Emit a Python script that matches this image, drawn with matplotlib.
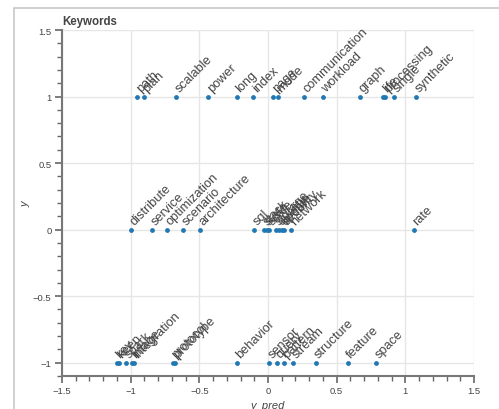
import matplotlib
matplotlib.use("Agg")
import matplotlib.pyplot as plt
from matplotlib.patches import Rectangle
from matplotlib.ticker import MultipleLocator, FuncFormatter

plt.rcParams["font.family"] = ["Liberation Sans", "DejaVu Sans"]

# keywords per row (y = 1, 0, -1) and their predicted positions
words_top = ["path", "plan", "scalable", "power", "long", "index", "page", "mode",
             "communication", "workload", "graph", "life", "processing", "single",
             "synthetic"]
pred_top = [-0.952, -0.905, -0.67, -0.435, -0.226, -0.107, 0.039, 0.07,
            0.265, 0.40, 0.668, 0.84, 0.855, 0.918, 1.075]

words_mid = ["distribute", "service", "optimization", "scenario", "architecture",
             "sql", "stack", "state", "scale", "storage", "quality", "update",
             "security", "network", "rate"]
pred_mid = [-1.0, -0.842, -0.735, -0.62, -0.495,
            -0.10, -0.03, -0.01, 0.01, 0.06, 0.08, 0.10, 0.12, 0.17, 1.06]

words_bot = ["key", "keep", "spark", "image", "integration", "protocol", "prototype",
             "behavior", "sensor", "query", "pattern", "stream", "structure",
             "feature", "space"]
pred_bot = [-1.102, -1.087, -1.036, -0.988, -0.974, -0.694, -0.677,
            -0.228, 0.01, 0.063, 0.114, 0.182, 0.347, 0.58, 0.784]

rows = [(1, words_top, pred_top), (0, words_mid, pred_mid), (-1, words_bot, pred_bot)]

fig = plt.figure(figsize=(4.99, 4.10), dpi=100)
ax = fig.add_axes([62 / 499, 1 - 377 / 410, (474 - 62) / 499, (377 - 31) / 410])

# outer panel border
fig.patches.append(Rectangle((14 / 499, -0.1), 1.2, 1 - 9 / 410 + 0.1,
                             transform=fig.transFigure, fill=False,
                             edgecolor="#c8c8c8", linewidth=1.2))

for yv, words, preds in rows:
    ax.scatter(preds, [yv] * len(preds), s=12, color="#1f77b4", zorder=3,
               linewidths=0)
    for w, xv in zip(words, preds):
        t = ax.annotate(w, (xv, yv), xytext=(4, 2), textcoords="offset points",
                        rotation=45, rotation_mode="anchor", ha="left", va="bottom",
                        fontsize=9.2, color="#444444", zorder=4)
        t.set_clip_on(True)

ax.set_xlim(-1.5, 1.5)
ax.set_ylim(-1.1, 1.5)
ax.xaxis.set_major_locator(MultipleLocator(0.5))
ax.xaxis.set_minor_locator(MultipleLocator(0.1))
ax.yaxis.set_major_locator(MultipleLocator(0.5))
ax.yaxis.set_minor_locator(MultipleLocator(0.1))
fmt = FuncFormatter(lambda v, p: f"{v:g}".replace("-", "\u2212"))
ax.xaxis.set_major_formatter(fmt)
ax.yaxis.set_major_formatter(fmt)

ax.grid(True, which="major", color="#e6e6e6", linewidth=1)
ax.set_axisbelow(True)
for s in ["top", "right"]:
    ax.spines[s].set_visible(False)
for s in ["left", "bottom"]:
    ax.spines[s].set_color("#777777")
    ax.spines[s].set_linewidth(1.5)
ax.tick_params(which="major", direction="out", length=5, width=1.2, pad=2.5,
               color="#666666", labelcolor="#444444", labelsize=6.8)
ax.tick_params(which="minor", direction="out", length=3.3, width=1,
               color="#666666")

ax.set_xlabel("y_pred", style="italic", color="#444444", fontsize=8, labelpad=3)
ax.set_ylabel("y", style="italic", color="#444444", fontsize=8, labelpad=2)
ax.set_title("Keywords", loc="left", fontweight="bold", color="#444444",
             fontsize=8.3, pad=4, x=0.0)

fig.savefig("out.png", dpi=100)
